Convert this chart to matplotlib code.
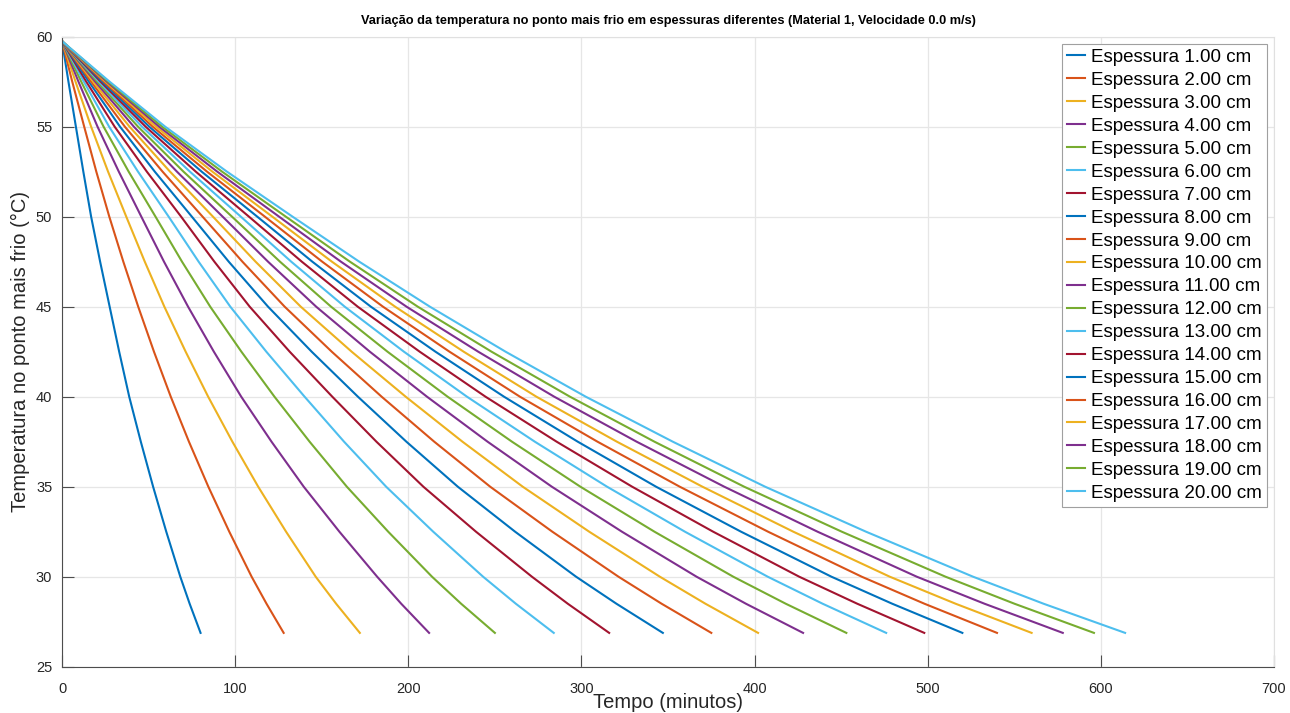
import matplotlib
matplotlib.use("Agg")
import matplotlib.pyplot as plt

plt.rcParams['font.family'] = ['Liberation Sans', 'DejaVu Sans']

# thickness (cm) of each curve
espessuras = [1, 2, 3, 4, 5, 6, 7, 8, 9, 10, 11, 12, 13, 14, 15, 16, 17, 18, 19, 20]

# temperature levels (°C) at which crossing times were read
T_start = 59.75
T_levels = [57.5, 55, 52.5, 50, 47.5, 45, 42.5, 40, 37.5, 35, 32.5, 30, 28.5]
T_end = 26.88

# crossing times (minutes) of each curve at each temperature level
t_575 = [3.7, 5.9, 7.8, 9.5, 11.1, 12.6, 14.0, 15.5, 16.8, 18.0,
         19.2, 20.3, 21.3, 22.3, 23.3, 24.2, 25.1, 25.9, 26.7, 27.5]
t_550 = [8.0, 12.8, 16.8, 20.5, 24.0, 27.2, 30.4, 33.5, 36.3, 39.0,
         41.5, 43.9, 46.2, 48.3, 50.4, 52.4, 54.3, 56.1, 57.8, 59.6]
t_525 = [12.3, 19.8, 26.6, 32.8, 38.5, 43.9, 49.0, 53.6, 58.1, 62.4,
         66.4, 70.2, 73.9, 77.3, 80.7, 83.8, 86.9, 89.7, 92.5, 95.3]
t_500 = [16.8, 27.3, 37.1, 45.8, 54.0, 61.6, 68.8, 75.0, 81.2, 87.2,
         92.8, 98.2, 103.3, 108.0, 112.8, 117.2, 121.5, 125.4, 129.3, 133.2]
t_475 = [22.0, 35.4, 47.8, 58.9, 69.3, 78.9, 88.0, 96.3, 104.2, 111.8,
         119.0, 125.9, 132.4, 138.5, 144.6, 150.3, 155.9, 161.1, 166.3, 171.7]
t_450 = [27.5, 44.0, 59.1, 72.8, 85.6, 97.2, 108.4, 119.0, 128.6, 137.9,
         146.8, 155.4, 163.3, 170.8, 178.4, 185.4, 192.4, 199.0, 205.5, 212.5]
t_425 = [33.0, 53.1, 71.4, 87.7, 103.6, 118.0, 131.5, 144.2, 155.8, 167.3,
         177.8, 188.0, 197.5, 206.6, 215.7, 223.8, 232.0, 240.4, 248.1, 256.2]
t_400 = [38.8, 62.8, 84.4, 103.5, 122.7, 140.1, 156.1, 170.9, 184.6, 198.5,
         210.8, 222.7, 233.9, 244.6, 255.3, 264.5, 274.0, 284.3, 293.4, 302.5]
t_375 = [45.5, 73.3, 98.4, 121.0, 143.0, 162.9, 181.6, 198.9, 215.0, 231.3,
         245.8, 259.9, 273.1, 285.7, 297.9, 309.3, 320.5, 331.9, 342.2, 352.8]
t_350 = [52.6, 84.5, 113.3, 139.6, 164.5, 187.2, 208.7, 228.6, 247.3, 266.1,
         282.9, 299.4, 314.8, 329.3, 343.1, 356.8, 369.9, 382.5, 394.0, 406.1]
t_325 = [60.2, 96.6, 129.4, 160.2, 188.4, 214.4, 239.1, 261.7, 283.2, 304.5,
         323.4, 342.2, 359.8, 376.1, 392.2, 407.8, 422.4, 436.4, 450.4, 464.4]
t_300 = [68.3, 109.5, 146.5, 182.0, 213.7, 243.2, 271.4, 296.9, 321.4, 345.3,
         366.5, 387.7, 407.6, 425.8, 444.4, 461.9, 478.1, 493.7, 510.3, 526.2]
t_285 = [73.7, 118.1, 158.3, 195.9, 230.5, 262.1, 292.1, 320.2, 346.3, 371.6,
         395.0, 418.0, 439.3, 459.3, 479.5, 498.1, 516.1, 532.8, 550.1, 566.9]
t_end = [80, 128, 172, 212, 250, 284, 316, 347, 375, 402,
         428, 453, 476, 498, 520, 540, 560, 578, 596, 614]

level_times = [t_575, t_550, t_525, t_500, t_475, t_450, t_425,
               t_400, t_375, t_350, t_325, t_300, t_285]

colors = ['#0072BD', '#D95319', '#EDB120', '#7E2F8E', '#77AC30', '#4DBEEE', '#A2142F']

fig = plt.figure(figsize=(12.9, 7.13), dpi=100)
ax = fig.add_axes([0.0481, 0.0649, 0.9395, 0.8836])

for i, e in enumerate(espessuras):
    times = [0] + [lt[i] for lt in level_times] + [t_end[i]]
    temps = [T_start] + T_levels + [T_end]
    ax.plot(times, temps, color=colors[i % len(colors)], lw=1.5,
            label=f'Espessura {e:.2f} cm', solid_joinstyle='round')

ax.set_xlim(0, 700)
ax.set_ylim(25, 60)
ax.set_xticks(range(0, 701, 100))
ax.set_yticks(range(25, 61, 5))
ax.grid(True, color='#e6e6e6', lw=0.9)
ax.set_axisbelow(True)
ax.tick_params(direction='in', length=8.5, width=0.8, colors='#4d4d4d',
               labelcolor='#262626', labelsize=10.5)
ax.tick_params(axis='x', pad=11)
ax.tick_params(axis='y', pad=7)
for s in ['left', 'bottom']:
    ax.spines[s].set_color('#4d4d4d')
    ax.spines[s].set_linewidth(0.8)
for s in ['top', 'right']:
    ax.spines[s].set_color('#e0e0e0')
    ax.spines[s].set_linewidth(0.8)

ax.set_xlabel('Tempo (minutos)', fontsize=14.5, color='#262626', labelpad=-2.5)
ax.set_ylabel('Temperatura no ponto mais frio (°C)', fontsize=14.5, color='#262626', labelpad=4)
ax.set_title('Variação da temperatura no ponto mais frio em espessuras diferentes (Material 1, Velocidade 0.0 m/s)',
             fontsize=9.2, fontweight='bold', pad=9)

leg = ax.legend(loc='upper right', fontsize=13.5, frameon=True, fancybox=False,
                framealpha=1, edgecolor='#a0a0a0', handlelength=1.0,
                handletextpad=0.3, labelspacing=0.31, borderpad=0.25,
                borderaxespad=0.4)
leg.get_frame().set_linewidth(0.8)

fig.savefig('out.png', dpi=100)
